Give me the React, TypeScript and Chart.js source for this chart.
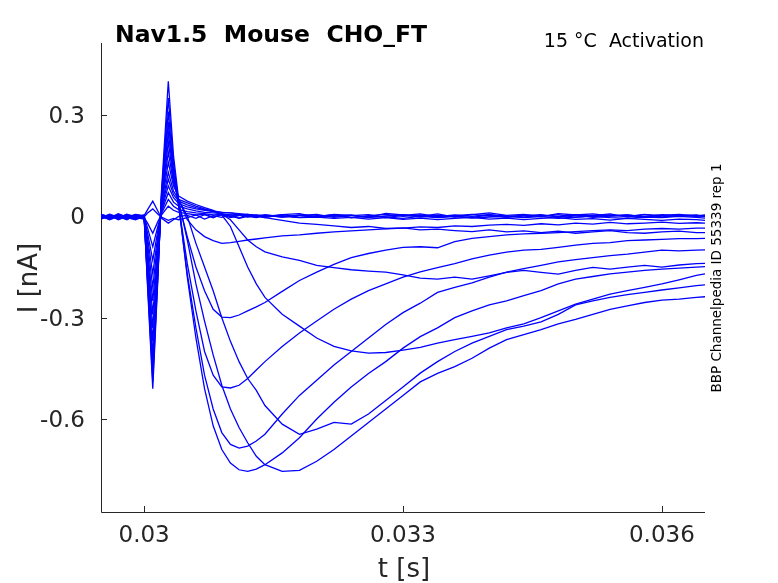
import { useEffect, useRef } from "react";
import { Chart, registerables } from "chart.js";

Chart.register(...registerables);

// time axis (s), shared by every sweep
const timeS = [
  0.0295, 0.0296, 0.0297, 0.0298, 0.0299, 0.03,
  0.03004, 0.0301, 0.03016, 0.0302, 0.03028, 0.03034, 0.0304,
  0.0305, 0.0306, 0.0307, 0.0308, 0.0309, 0.031, 0.0311, 0.0312, 0.0313, 0.0314, 0.0316, 0.0318,
  0.032, 0.0322, 0.0324, 0.0326, 0.0328, 0.033, 0.0332, 0.0334, 0.0336, 0.0338, 0.034, 0.0342,
  0.0344, 0.0346, 0.0348, 0.035, 0.0352, 0.0354, 0.0356, 0.0358, 0.036, 0.0362, 0.0364, 0.0365,
];

// current traces (nA) - sub-threshold sweeps
const flat1 = [
  0.004, -0.006, 0.008, -0.002, 0.006, 0.002,
  0.02, 0.045, 0.015, -0.005, -0.02, -0.01, 0.0,
  0.003, -0.006, 0.005, -0.004, 0.007, 0.0, -0.005, 0.006, 0.002, -0.004, 0.005, 0.008,
  -0.002, 0.006, 0.003, -0.003, 0.009, 0.004, 0.0, 0.007, -0.002, 0.005, 0.01, 0.003,
  0.006, -0.001, 0.008, 0.004, 0.002, 0.007, -0.002, 0.005, 0.003, 0.006, 0.001, 0.004,
];
const flat2 = [
  -0.008, 0.002, -0.004, 0.006, -0.006, -0.002,
  0.01, 0.022, 0.006, -0.002, -0.012, -0.006, -0.01,
  -0.004, 0.004, -0.008, 0.002, -0.003, 0.005, -0.006, 0.0, -0.004, 0.004, -0.002, 0.003,
  0.006, -0.003, 0.002, 0.005, -0.004, 0.003, 0.007, -0.001, 0.004, 0.0, 0.006, -0.003,
  0.002, 0.005, -0.002, 0.004, 0.007, 0.001, 0.004, -0.001, 0.005, 0.002, 0.004, 0.0,
];
const flat3 = [
  0.002, -0.01, 0.0, -0.006, 0.004, -0.004,
  -0.02, -0.05, -0.015, 0.004, 0.03, 0.018, 0.012,
  0.008, 0.004, 0.006, -0.002, 0.004, -0.004, 0.002, 0.006, -0.003, 0.003, -0.002, 0.004,
  0.0, 0.005, -0.004, 0.002, 0.006, 0.0, 0.004, -0.003, 0.002, 0.006, 0.001, -0.002,
  0.004, 0.0, 0.005, -0.003, 0.002, 0.004, 0.0, 0.006, -0.002, 0.003, 0.0, 0.002,
];
const flat4 = [
  -0.004, 0.004, -0.01, 0.0, -0.008, 0.002,
  -0.035, -0.09, -0.028, 0.008, 0.05, 0.03, 0.02,
  0.014, 0.01, 0.008, 0.004, 0.006, 0.0, 0.004, -0.002, 0.003, 0.0, 0.005, -0.003,
  0.002, 0.0, 0.004, -0.004, 0.001, 0.005, -0.002, 0.003, 0.0, -0.003, 0.004, 0.001,
  -0.002, 0.003, 0.0, 0.005, -0.003, 0.001, 0.004, -0.002, 0.002, 0.0, 0.003, -0.001,
];
const flat5 = [
  0.006, -0.002, 0.004, -0.008, 0.0, -0.006,
  -0.05, -0.13, -0.04, 0.012, 0.07, 0.042, 0.03,
  0.022, 0.016, 0.012, 0.01, 0.008, 0.004, 0.006, 0.002, 0.004, 0.0, 0.002, -0.003,
  -0.001, 0.003, -0.004, 0.0, -0.002, -0.006, 0.0, -0.004, -0.001, -0.005, -0.002, 0.0,
  -0.004, -0.001, -0.006, -0.002, 0.0, -0.004, -0.006, -0.002, -0.004, 0.0, -0.003, -0.005,
];
const flat6 = [
  -0.002, -0.008, 0.002, -0.004, -0.01, 0.0,
  -0.065, -0.17, -0.055, 0.016, 0.09, 0.055, 0.038,
  0.028, 0.022, 0.018, 0.014, 0.012, 0.01, 0.008, 0.006, 0.003, 0.004, 0.0, -0.004,
  -0.002, -0.006, -0.003, -0.008, -0.004, -0.009, -0.005, -0.01, -0.006, -0.003, -0.008, -0.005,
  -0.01, -0.006, -0.004, -0.009, -0.007, -0.011, -0.006, -0.009, -0.012, -0.008, -0.01, -0.012,
];

// sweeps with sodium current, smallest step first
const step1 = [
  0.004, 0.0, -0.006, 0.002, -0.002, 0.004,
  -0.08, -0.21, -0.07, 0.02, 0.11, 0.065, 0.045,
  0.034, 0.026, 0.02, 0.016, 0.012, 0.01, 0.006, 0.004, 0.0, -0.004, -0.012, -0.02,
  -0.024, -0.028, -0.033, -0.03, -0.036, -0.034, -0.04, -0.038, -0.042, -0.045, -0.04, -0.046,
  -0.043, -0.048, -0.044, -0.05, -0.046, -0.042, -0.048, -0.05, -0.046, -0.044, -0.048, -0.048,
];
const step2 = [
  -0.006, 0.004, -0.002, -0.008, 0.002, -0.002,
  -0.1, -0.25, -0.085, 0.024, 0.13, 0.075, 0.05,
  0.04, 0.03, 0.022, 0.015, 0.006, -0.01, -0.04, -0.07, -0.09, -0.105, -0.12, -0.13,
  -0.145, -0.152, -0.158, -0.162, -0.165, -0.173, -0.183, -0.186, -0.18, -0.186, -0.176, -0.166,
  -0.16, -0.166, -0.171, -0.16, -0.151, -0.156, -0.15, -0.145, -0.15, -0.144, -0.14, -0.139,
];
const step3 = [
  0.0, -0.006, 0.006, -0.002, 0.004, -0.006,
  -0.115, -0.29, -0.1, 0.03, 0.16, 0.09, 0.06,
  0.045, 0.035, 0.026, 0.018, 0.004, -0.03, -0.09, -0.15, -0.2, -0.24, -0.29, -0.325,
  -0.36, -0.385, -0.398, -0.405, -0.403, -0.396, -0.388, -0.375, -0.365, -0.355, -0.345, -0.33,
  -0.318, -0.3, -0.28, -0.26, -0.245, -0.23, -0.22, -0.21, -0.2, -0.188, -0.175, -0.17,
];
const step4 = [
  -0.004, 0.002, -0.008, 0.004, -0.004, 0.0,
  -0.13, -0.33, -0.115, 0.035, 0.19, 0.1, 0.05,
  0.0, -0.08, -0.15, -0.22, -0.3, -0.37, -0.43, -0.48, -0.515, -0.56, -0.615, -0.645,
  -0.63, -0.61, -0.615, -0.585, -0.545, -0.505, -0.464, -0.43, -0.4, -0.375, -0.355, -0.335,
  -0.325, -0.312, -0.29, -0.262, -0.25, -0.24, -0.232, -0.225, -0.218, -0.212, -0.205, -0.203,
];
const step5 = [
  0.002, -0.004, 0.0, -0.01, 0.004, -0.004,
  -0.15, -0.37, -0.13, 0.04, 0.22, 0.11, 0.045,
  -0.07, -0.2, -0.31, -0.41, -0.5, -0.57, -0.625, -0.67, -0.71, -0.735, -0.755, -0.752,
  -0.725, -0.69, -0.65, -0.61, -0.57, -0.53, -0.49, -0.465, -0.445, -0.42, -0.39, -0.365,
  -0.35, -0.335, -0.318, -0.305, -0.29, -0.275, -0.265, -0.255, -0.248, -0.245, -0.24, -0.238,
];
const step6 = [
  -0.006, 0.0, 0.004, -0.004, -0.008, 0.002,
  -0.165, -0.41, -0.145, 0.045, 0.25, 0.12, 0.04,
  -0.18, -0.36, -0.51, -0.62, -0.69, -0.73, -0.75, -0.755, -0.748, -0.735, -0.7, -0.655,
  -0.6, -0.55, -0.505, -0.465, -0.43, -0.39, -0.356, -0.33, -0.3, -0.28, -0.262, -0.25,
  -0.235, -0.22, -0.2, -0.186, -0.178, -0.17, -0.165, -0.16, -0.156, -0.153, -0.15, -0.149,
];
const step7 = [
  0.004, -0.006, -0.002, 0.002, -0.004, -0.008,
  -0.18, -0.44, -0.155, 0.05, 0.28, 0.13, 0.03,
  -0.17, -0.33, -0.47, -0.57, -0.64, -0.675, -0.686, -0.68, -0.665, -0.645, -0.585, -0.53,
  -0.485, -0.44, -0.4, -0.36, -0.32, -0.285, -0.257, -0.225, -0.21, -0.197, -0.18, -0.165,
  -0.155, -0.145, -0.135, -0.128, -0.122, -0.116, -0.112, -0.106, -0.1, -0.102, -0.1, -0.099,
];
const step8 = [
  -0.002, 0.004, -0.006, 0.006, 0.0, -0.004,
  -0.19, -0.47, -0.165, 0.055, 0.31, 0.14, 0.03,
  -0.14, -0.28, -0.4, -0.47, -0.505, -0.508, -0.5, -0.48, -0.455, -0.43, -0.385, -0.345,
  -0.31, -0.275, -0.245, -0.22, -0.2, -0.18, -0.164, -0.152, -0.14, -0.126, -0.115, -0.106,
  -0.1, -0.098, -0.092, -0.085, -0.08, -0.078, -0.072, -0.07, -0.068, -0.066, -0.066, -0.065,
];
const step9 = [
  0.006, -0.002, 0.002, -0.006, 0.004, 0.0,
  -0.2, -0.49, -0.17, 0.06, 0.35, 0.16, 0.04,
  -0.06, -0.15, -0.22, -0.275, -0.298, -0.3, -0.292, -0.28, -0.268, -0.255, -0.222, -0.19,
  -0.165, -0.142, -0.122, -0.11, -0.1, -0.092, -0.09, -0.093, -0.075, -0.065, -0.06, -0.055,
  -0.052, -0.05, -0.048, -0.045, -0.042, -0.04, -0.042, -0.038, -0.036, -0.038, -0.035, -0.035,
];
const step10 = [
  -0.004, 0.006, -0.002, 0.0, -0.006, 0.004,
  -0.21, -0.51, -0.18, 0.07, 0.4, 0.18, 0.05,
  -0.01, -0.04, -0.06, -0.072, -0.08, -0.078, -0.074, -0.07, -0.067, -0.064, -0.058, -0.055,
  -0.05, -0.046, -0.043, -0.04, -0.037, -0.035, -0.031, -0.033, -0.028, -0.03, -0.026, -0.024,
  -0.027, -0.022, -0.025, -0.02, -0.023, -0.018, -0.022, -0.02, -0.017, -0.021, -0.019, -0.02,
];

const sweeps = [
  flat1, flat2, flat3, flat4, flat5, flat6,
  step1, step2, step3, step4, step5, step6, step7, step8, step9, step10,
];

const xTicks = [0.03, 0.033, 0.036];
const yTicks = [-0.6, -0.3, 0, 0.3];

const titleText = "Nav1.5  Mouse  CHO_FT";
const infoText = "15 °C  Activation";
const sideText = "BBP Channelpedia ID 55339 rep 1";
const xLabel = "t [s]";
const yLabel = "I [nA]";

const AXIS = "#262626";
const FONT = "'DejaVu Sans', sans-serif";

const decorations = {
  id: "decorations",
  beforeDatasetsDraw(chart: any) {
    const { ctx, chartArea, scales } = chart;
    const { left, right, top, bottom } = chartArea;
    ctx.save();
    ctx.strokeStyle = AXIS;
    ctx.lineWidth = 1;
    ctx.beginPath();
    ctx.moveTo(left + 0.5, top);
    ctx.lineTo(left + 0.5, bottom + 0.5);
    ctx.lineTo(right, bottom + 0.5);
    xTicks.forEach((v) => {
      const px = Math.round(scales.x.getPixelForValue(v)) + 0.5;
      ctx.moveTo(px, bottom);
      ctx.lineTo(px, bottom - 6);
    });
    yTicks.forEach((v) => {
      const py = Math.round(scales.y.getPixelForValue(v)) + 0.5;
      ctx.moveTo(left, py);
      ctx.lineTo(left + 6, py);
    });
    ctx.stroke();
    ctx.restore();
  },
  afterDraw(chart: any) {
    const { ctx } = chart;
    ctx.save();
    ctx.fillStyle = "#000";

    ctx.font = `bold 23.5px ${FONT}`;
    ctx.textAlign = "left";
    ctx.textBaseline = "alphabetic";
    ctx.fillText(titleText, 115, 42);

    ctx.font = `19px ${FONT}`;
    ctx.textAlign = "right";
    ctx.fillText(infoText, 704, 47);

    // axis titles
    ctx.fillStyle = AXIS;
    ctx.font = `26px ${FONT}`;
    ctx.textAlign = "center";
    ctx.fillText(xLabel, 404, 577);

    ctx.save();
    ctx.translate(37, 278);
    ctx.rotate(-Math.PI / 2);
    ctx.fillText(yLabel, 0, 0);
    ctx.restore();

    // side note
    ctx.fillStyle = "#000";
    ctx.font = `13.5px ${FONT}`;
    ctx.save();
    ctx.translate(721, 278);
    ctx.rotate(-Math.PI / 2);
    ctx.fillText(sideText, 0, 0);
    ctx.restore();

    ctx.restore();
  },
};

const App = () => {
  const canvasRef = useRef<HTMLCanvasElement | null>(null);
  const chartRef = useRef<Chart | null>(null);

  useEffect(() => {
    if (!canvasRef.current) return;
    if (chartRef.current) chartRef.current.destroy();

    const tickFont = { family: FONT, size: 23 };

    chartRef.current = new Chart(canvasRef.current, {
      type: "line",
      data: {
        datasets: sweeps.map((trace) => ({
          data: trace.map((v, i) => ({ x: timeS[i], y: v })),
          borderColor: "#0000ff",
          borderWidth: 1.3,
          pointRadius: 0,
          tension: 0,
          fill: false,
        })),
      },
      options: {
        animation: false,
        responsive: true,
        maintainAspectRatio: false,
        parsing: false,
        layout: { padding: { left: 0, right: 73, top: 43, bottom: 0 } },
        plugins: {
          legend: { display: false },
          tooltip: { enabled: false },
        },
        scales: {
          x: {
            type: "linear",
            min: 0.0295,
            max: 0.0365,
            grid: { display: false, drawTicks: false },
            border: { display: false },
            ticks: {
              font: tickFont,
              color: AXIS,
              padding: 10,
              maxRotation: 0,
              autoSkip: false,
              callback: (v: any) => String(v),
            },
            afterBuildTicks: (s: any) => {
              s.ticks = xTicks.map((value) => ({ value }));
            },
            afterFit: (s: any) => {
              s.height = 71;
            },
          },
          y: {
            type: "linear",
            min: -0.875,
            max: 0.513,
            grid: { display: false, drawTicks: false },
            border: { display: false },
            ticks: {
              font: tickFont,
              color: AXIS,
              padding: 16,
              labelOffset: 2,
              autoSkip: false,
              callback: (v: any) => String(v),
            },
            afterBuildTicks: (s: any) => {
              s.ticks = yTicks.map((value) => ({ value }));
            },
            afterFit: (s: any) => {
              s.width = 101;
            },
          },
        },
      },
      plugins: [decorations],
    });

    return () => {
      if (chartRef.current) {
        chartRef.current.destroy();
        chartRef.current = null;
      }
    };
  }, []);

  return (
    <div
      style={{
        position: "fixed",
        left: 0,
        top: 0,
        width: 778,
        height: 583,
        background: "#fff",
      }}
    >
      <canvas ref={canvasRef} />
    </div>
  );
};

export default App;
